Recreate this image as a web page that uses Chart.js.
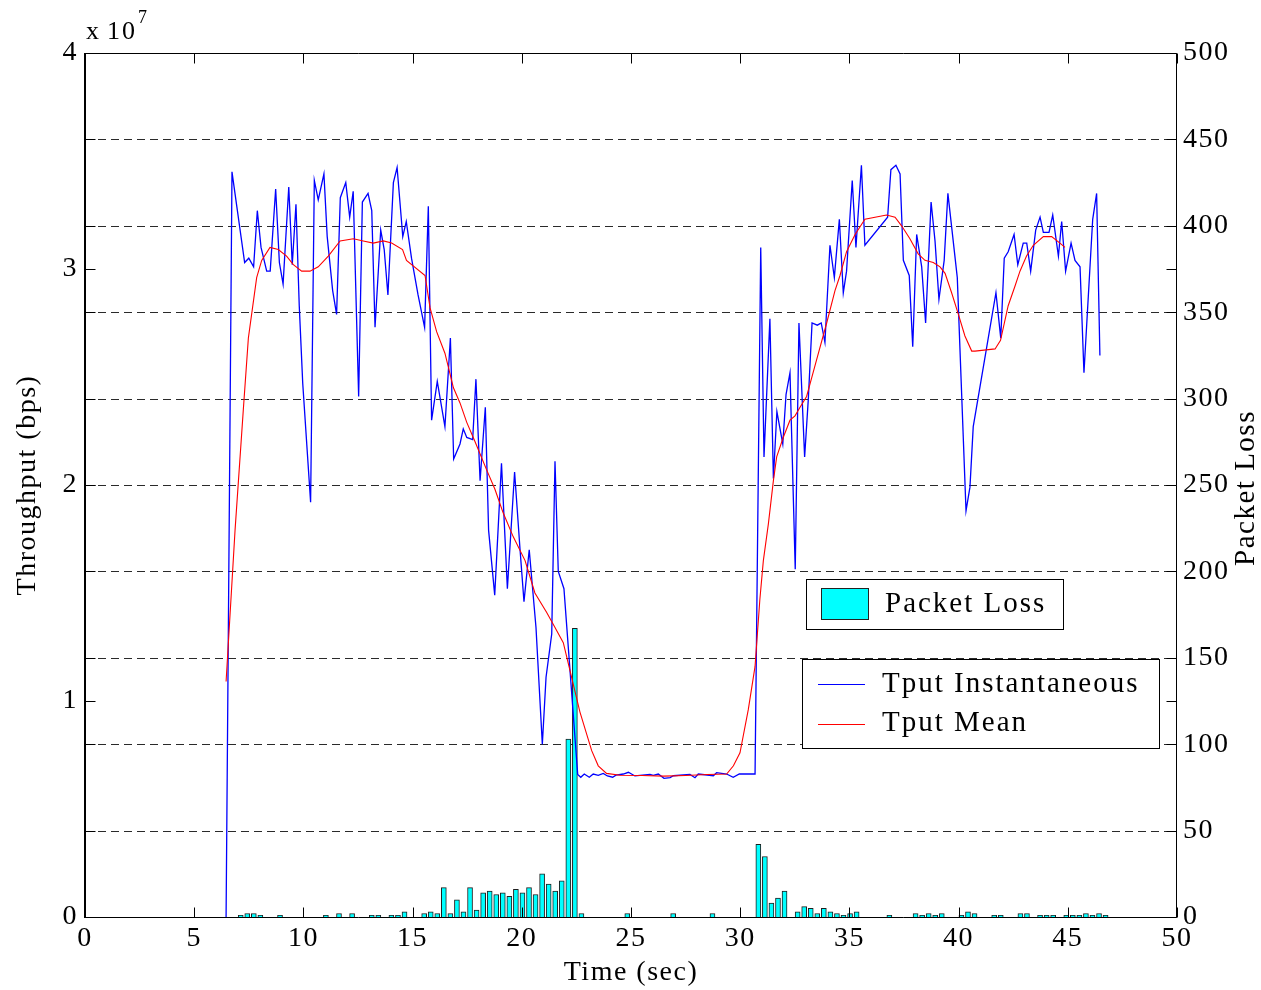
<!DOCTYPE html>
<html>
<head>
<meta charset="utf-8">
<title>Throughput and Packet Loss</title>
<script src="https://cdn.jsdelivr.net/npm/chart.js@4/dist/chart.umd.min.js"></script>
<style>
  html, body { margin: 0; padding: 0; background: #fff; }
  canvas { display: block; }
</style>
</head>
<body>
<canvas id="chart" width="1261" height="990"></canvas>
<script>
// Instantaneous throughput: sample time (s) and rate (x 10^7 bps)
const instTime = [
  6.46, 6.73, 7.31, 7.50, 7.72, 7.89, 8.06, 8.32, 8.48, 8.73, 8.90, 9.07, 9.33, 9.49, 9.66, 9.81, 9.97,
  10.33, 10.50, 10.68, 10.94, 11.09, 11.34, 11.52, 11.69, 11.94, 12.12, 12.28, 12.53, 12.70, 12.96,
  13.13, 13.28, 13.54, 13.70, 13.87, 14.12, 14.29, 14.55, 14.71, 14.95, 15.25, 15.55, 15.72, 15.87,
  16.13, 16.48, 16.73, 16.88, 17.17, 17.32, 17.48, 17.75, 17.90, 18.09, 18.33, 18.48, 18.76, 19.07,
  19.34, 19.67, 19.92, 20.10, 20.34, 20.65, 20.94, 21.11, 21.37, 21.52, 21.67, 21.93, 22.56, 22.70,
  22.86, 23.09, 23.27, 23.50, 23.73, 23.92, 24.16, 24.31, 24.65, 24.88, 25.18, 25.87, 26.02, 26.25,
  26.51, 26.79, 26.94, 27.70, 27.93, 28.08, 28.77, 28.92, 29.38, 29.68, 29.96, 30.68, 30.94, 31.09,
  31.36, 31.52, 31.68, 31.95, 32.10, 32.28, 32.52, 32.69, 32.95, 33.12, 33.29, 33.53, 33.71, 33.88,
  34.11, 34.31, 34.54, 34.72, 34.87, 35.13, 35.30, 35.55, 35.71, 36.75, 36.90, 37.13, 37.32, 37.47,
  37.74, 37.90, 38.08, 38.31, 38.49, 38.74, 38.92, 39.10, 39.34, 39.51, 39.94, 40.34, 40.52, 40.67,
  41.71, 41.93, 42.09, 42.27, 42.54, 42.71, 42.96, 43.12, 43.30, 43.53, 43.73, 43.88, 44.14, 44.31,
  44.57, 44.72, 44.90, 45.15, 45.33, 45.56, 45.74, 46.14, 46.32, 46.47
];
const instTput = [
  0, 3.45, 3.03, 3.05, 3.01, 3.27, 3.10, 2.99, 2.99, 3.37, 3.03, 2.93, 3.38, 3.02, 3.30, 2.83, 2.47,
  1.92, 3.41, 3.32, 3.44, 3.15, 2.90, 2.79, 3.33, 3.40, 3.24, 3.36, 2.41, 3.31, 3.35,
  3.27, 2.73, 3.18, 3.09, 2.88, 3.40, 3.47, 3.15, 3.22, 3.05, 2.88, 2.73, 3.29, 2.30,
  2.48, 2.27, 2.68, 2.12, 2.19, 2.26, 2.22, 2.21, 2.49, 2.02, 2.36, 1.79, 1.49, 2.10,
  1.52, 2.06, 1.70, 1.46, 1.70, 1.34, 0.80, 1.11, 1.31, 2.11, 1.60, 1.52, 0.660, 0.647,
  0.662, 0.647, 0.662, 0.656, 0.665, 0.653, 0.647, 0.657, 0.662, 0.670, 0.653, 0.660, 0.656, 0.662,
  0.642, 0.645, 0.654, 0.660, 0.645, 0.662, 0.654, 0.668, 0.662, 0.647, 0.662, 0.662, 3.10, 2.13,
  2.77, 2.03, 2.34, 2.19, 2.42, 2.52, 1.61, 2.75, 2.13, 2.40, 2.75, 2.74, 2.75, 2.66,
  3.11, 2.96, 3.23, 2.89, 2.99, 3.41, 3.10, 3.48, 3.11, 3.24, 3.46, 3.48, 3.44, 3.04,
  2.97, 2.64, 3.16, 3.01, 2.75, 3.31, 3.13, 2.86, 3.04, 3.35, 2.96, 1.88, 1.99, 2.27,
  2.89, 2.68, 3.05, 3.08, 3.16, 3.02, 3.12, 3.12, 2.99, 3.18, 3.24, 3.17, 3.17, 3.25,
  3.06, 3.22, 2.99, 3.12, 3.04, 3.01, 2.52, 3.23, 3.35, 2.60
];

// Running mean of the throughput (x 10^7 bps)
const meanTime = [
  6.46, 6.87, 7.25, 7.48, 7.86, 8.09, 8.47, 8.85, 9.23, 9.54, 9.92, 10.30, 10.68, 11.14, 11.68,
  12.29, 12.74, 13.20, 13.66, 14.04, 14.54, 14.72, 15.57, 15.80, 16.10, 16.48, 16.87, 17.17, 17.48,
  17.86, 18.39, 18.77, 19.15, 19.61, 20.15, 20.60, 21.14, 21.52, 21.90, 22.21, 22.66, 23.20, 23.50,
  23.88, 24.50, 25.50, 26.50, 27.50, 28.50, 29.38, 29.69, 29.99, 30.37, 30.68, 30.90, 31.06, 31.29,
  31.52, 31.67, 31.97, 32.28, 32.51, 32.74, 33.04, 33.50, 33.96, 34.34, 34.57, 34.87, 35.26, 35.71,
  36.70, 37.09, 37.39, 37.77, 38.15, 38.46, 38.84, 39.15, 39.38, 39.68, 39.99, 40.29, 40.60, 40.75,
  41.67, 41.92, 42.27, 42.58, 42.81, 43.11, 43.42, 43.88, 44.26, 44.64, 44.87
];
const meanTput = [
  1.09, 1.79, 2.35, 2.68, 2.96, 3.04, 3.10, 3.09, 3.06, 3.02, 2.99, 2.99, 3.01, 3.06, 3.13,
  3.14, 3.13, 3.12, 3.13, 3.12, 3.09, 3.04, 2.97, 2.82, 2.71, 2.61, 2.45, 2.38, 2.29,
  2.20, 2.07, 1.98, 1.87, 1.76, 1.65, 1.50, 1.41, 1.34, 1.27, 1.14, 0.95, 0.77, 0.70,
  0.665, 0.656, 0.655, 0.652, 0.655, 0.660, 0.662, 0.70, 0.76, 0.96, 1.16, 1.47, 1.65, 1.82,
  2.02, 2.13, 2.22, 2.30, 2.32, 2.36, 2.41, 2.58, 2.75, 2.90, 2.97, 3.08, 3.16, 3.23,
  3.25, 3.24, 3.20, 3.14, 3.07, 3.04, 3.03, 3.01, 2.98, 2.89, 2.79, 2.69, 2.62, 2.62,
  2.63, 2.67, 2.83, 2.92, 2.99, 3.06, 3.11, 3.15, 3.15, 3.12, 3.10
];

// Packets lost per 0.3 s interval, keyed by interval centre (s)
const lossTime = [
  7.13, 7.43, 7.73, 8.03, 8.93, 11.03, 11.63, 12.23, 13.13, 13.43, 14.03, 14.33, 14.63, 15.53,
  15.83, 16.13, 16.43, 16.73, 17.03, 17.33, 17.63, 17.93, 18.23, 18.53, 18.83, 19.13, 19.43, 19.73,
  20.03, 20.33, 20.63, 20.93, 21.23, 21.53, 21.83, 22.13, 22.43, 22.73, 24.83, 26.93, 28.73,
  30.83, 31.13, 31.43, 31.73, 32.03, 32.63, 32.93, 33.23, 33.53, 33.83, 34.13, 34.43, 34.73, 35.03,
  35.33, 36.83, 38.03, 38.33, 38.63, 38.93, 39.23, 40.13, 40.43, 40.73, 41.63, 41.93, 42.83, 43.13,
  43.73, 44.03, 44.33, 44.93, 45.23, 45.53, 45.83, 46.13, 46.43, 46.73
];
const lossCount = [
  1, 2, 2, 1, 1, 1, 2, 2, 1, 1, 1, 1, 3, 2,
  3, 2, 17, 2, 10, 3, 17, 4, 14, 15, 13, 14, 12, 16,
  14, 17, 13, 25, 19, 15, 21, 103, 167, 2, 2, 2, 2,
  42, 35, 8, 11, 15, 3, 6, 5, 2, 5, 3, 2, 1, 2,
  3, 1, 2, 1, 2, 1, 2, 1, 3, 2, 1, 1, 2, 2,
  1, 1, 1, 1, 1, 1, 2, 1, 2, 1
];

// Axis tick values
const timeTicks = [0, 5, 10, 15, 20, 25, 30, 35, 40, 45, 50];
const tputTicks = [0, 1, 2, 3, 4];
const lossTicks = [0, 50, 100, 150, 200, 250, 300, 350, 400, 450, 500];

const SERIF = '"Liberation Serif", "Times New Roman", Times, serif';
const TICK_LEN = 10;

function pairs(xs, ys) {
  return xs.map((x, i) => ({ x: x, y: ys[i] }));
}
function fixedTicks(values) {
  return scale => { scale.ticks = values.map(v => ({ value: v })); };
}

// Box frame, inward tick marks on all four sides, dashed grid from the loss axis,
// the exponent note, the right axis title and the two legend boxes.
const decorations = {
  id: 'decorations',
  beforeDraw(chart) {
    chart.ctx.letterSpacing = '1.5px';
  },
  beforeDatasetsDraw(chart) {
    const { ctx, chartArea: a, scales } = chart;
    const s = scales.y2;
    ctx.save();
    ctx.strokeStyle = '#2a2a2a';
    ctx.lineWidth = 1.1;
    ctx.setLineDash([8, 5]);
    s.ticks.forEach(t => {
      if (t.value <= s.min || t.value >= s.max) return;
      const y = Math.round(s.getPixelForValue(t.value)) + 0.5;
      ctx.beginPath();
      ctx.moveTo(a.left, y);
      ctx.lineTo(a.right, y);
      ctx.stroke();
    });
    ctx.restore();
  },
  afterDatasetsDraw(chart) {
    const { ctx, chartArea: a, scales } = chart;
    const L = Math.round(a.left) + 0.5, R = Math.round(a.right) - 0.5;
    const T = Math.round(a.top) + 0.5, B = Math.round(a.bottom) + 0.5;
    ctx.save();
    ctx.setLineDash([]);
    ctx.strokeStyle = '#000';
    ctx.lineWidth = 1;
    ctx.beginPath();
    scales.x.ticks.forEach(t => {
      const x = Math.round(scales.x.getPixelForValue(t.value)) + 0.5;
      ctx.moveTo(x, B); ctx.lineTo(x, B - TICK_LEN);
      ctx.moveTo(x, T); ctx.lineTo(x, T + TICK_LEN);
    });
    [scales.y, scales.y2].forEach(s => s.ticks.forEach(t => {
      const y = Math.round(s.getPixelForValue(t.value)) + 0.5;
      ctx.moveTo(L, y); ctx.lineTo(L + TICK_LEN, y);
      ctx.moveTo(R, y); ctx.lineTo(R - TICK_LEN, y);
    }));
    ctx.stroke();
    // frame: thin top, right and bottom, heavier left edge
    ctx.beginPath();
    ctx.moveTo(L, T); ctx.lineTo(R, T); ctx.lineTo(R, B); ctx.lineTo(L, B);
    ctx.stroke();
    ctx.lineWidth = 2;
    ctx.beginPath();
    ctx.moveTo(a.left, a.top); ctx.lineTo(a.left, a.bottom + 1);
    ctx.stroke();
    ctx.restore();
  },
  afterDraw(chart) {
    const { ctx, chartArea: a } = chart;
    const ds = chart.data.datasets;
    ctx.save();
    ctx.setLineDash([]);
    ctx.fillStyle = '#000';
    ctx.textBaseline = 'alphabetic';
    ctx.textAlign = 'left';

    // exponent of the left axis
    ctx.letterSpacing = '2px';
    ctx.font = '26px ' + SERIF;
    ctx.fillText('x', a.left + 1, 39);
    ctx.fillText('10', a.left + 22, 39);
    ctx.font = '18px ' + SERIF;
    ctx.fillText('7', a.left + 53, 23);

    // right axis title, read bottom to top
    ctx.letterSpacing = '1.5px';
    ctx.save();
    ctx.font = '29px ' + SERIF;
    ctx.translate(1246, 488);
    ctx.rotate(-Math.PI / 2);
    ctx.textAlign = 'center';
    ctx.textBaseline = 'middle';
    ctx.fillText('Packet Loss', 0, 0);
    ctx.restore();

    ctx.letterSpacing = '2px';
    ctx.font = '29px ' + SERIF;
    ctx.lineWidth = 1;
    ctx.strokeStyle = '#000';

    // legend for the bars
    const bars = ds[2];
    ctx.fillStyle = '#fff';
    ctx.fillRect(806.5, 579.5, 257, 50);
    ctx.strokeRect(806.5, 579.5, 257, 50);
    ctx.fillStyle = bars.backgroundColor;
    ctx.fillRect(821.5, 588.5, 47, 31);
    ctx.strokeStyle = '#222';
    ctx.strokeRect(821.5, 588.5, 47, 31);
    ctx.fillStyle = '#000';
    ctx.fillText(bars.label, 885, 612);

    // legend for the two throughput lines
    ctx.strokeStyle = '#000';
    ctx.fillStyle = '#fff';
    ctx.fillRect(802.5, 659.5, 357, 89);
    ctx.strokeRect(802.5, 659.5, 357, 89);
    [[ds[0], 684.5, 692], [ds[1], 724.5, 731]].forEach(([d, ly, ty]) => {
      ctx.strokeStyle = d.borderColor;
      ctx.lineWidth = 1;
      ctx.beginPath();
      ctx.moveTo(818, ly);
      ctx.lineTo(865, ly);
      ctx.stroke();
      ctx.fillStyle = '#000';
      ctx.fillText(d.label, 882, ty);
    });
    ctx.restore();
  }
};

Chart.defaults.font.family = SERIF;
Chart.defaults.color = '#000';

new Chart(document.getElementById('chart'), {
  type: 'line',
  data: {
    datasets: [
      {
        label: 'Tput Instantaneous',
        type: 'line',
        data: pairs(instTime, instTput),
        yAxisID: 'y',
        borderColor: '#0000ff',
        borderWidth: 1.3,
        pointRadius: 0,
        tension: 0,
        fill: false,
        order: 1
      },
      {
        label: 'Tput Mean',
        type: 'line',
        data: pairs(meanTime, meanTput),
        yAxisID: 'y',
        borderColor: '#ff0000',
        borderWidth: 1.1,
        pointRadius: 0,
        tension: 0,
        fill: false,
        order: 0
      },
      {
        label: 'Packet Loss',
        type: 'bar',
        data: pairs(lossTime, lossCount),
        yAxisID: 'y2',
        backgroundColor: '#00ffff',
        borderColor: '#1e1e1e',
        borderWidth: 1,
        borderSkipped: 'bottom',
        barThickness: 5,
        order: 2
      }
    ]
  },
  options: {
    responsive: false,
    animation: false,
    devicePixelRatio: 1,
    layout: { padding: { top: 53, left: 0, right: 0, bottom: 0 } },
    plugins: { legend: { display: false }, tooltip: { enabled: false } },
    scales: {
      x: {
        type: 'linear',
        min: 0,
        max: 50,
        offset: false,
        afterBuildTicks: fixedTicks(timeTicks),
        afterFit(s) { s.height = 73; },
        grid: { display: false, drawTicks: false },
        border: { display: false },
        ticks: { font: { size: 28 }, padding: 5, maxRotation: 0, autoSkip: false },
        title: { display: true, text: 'Time (sec)', font: { size: 28 }, padding: { top: 0, bottom: 1 } }
      },
      y: {
        type: 'linear',
        position: 'left',
        min: 0,
        max: 4,
        afterBuildTicks: fixedTicks(tputTicks),
        afterFit(s) { s.width = 85; },
        grid: { display: false, drawTicks: false },
        border: { display: false },
        ticks: { font: { size: 28 }, padding: 7 },
        title: { display: true, text: 'Throughput (bps)', font: { size: 28 }, padding: { top: 11, bottom: 0 } }
      },
      y2: {
        type: 'linear',
        position: 'right',
        min: 0,
        max: 500,
        afterBuildTicks: fixedTicks(lossTicks),
        afterFit(s) { s.width = 84; },
        grid: { display: false, drawTicks: false },
        border: { display: false },
        ticks: { font: { size: 28 }, padding: 6 }
      }
    }
  },
  plugins: [decorations]
});
</script>
</body>
</html>
